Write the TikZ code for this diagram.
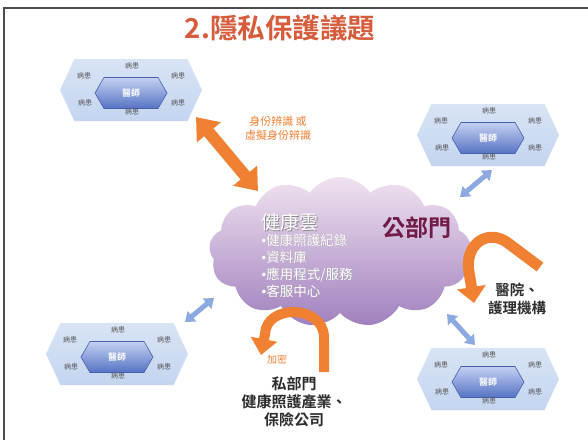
\documentclass[tikz,border=0pt]{standalone}
\usepackage{fontspec}
\setmainfont{Noto Sans CJK TC}[BoldFont={Noto Sans CJK TC Bold}]
\newfontfamily\latinf{Liberation Sans}
\newcommand{\bul}{{\latinf •}}
\usetikzlibrary{shapes.symbols,arrows.meta}
\definecolor{titlec}{RGB}{214,92,60}
\definecolor{orng}{RGB}{240,128,50}
\definecolor{hexA}{RGB}{216,228,245}
\definecolor{hexB}{RGB}{196,213,240}
\definecolor{inA}{RGB}{196,208,242}
\definecolor{inB}{RGB}{86,115,196}
\definecolor{inD}{RGB}{70,95,170}
\definecolor{patc}{RGB}{85,85,85}
\definecolor{cloudA}{RGB}{240,226,240}
\definecolor{cloudB}{RGB}{160,128,190}
\definecolor{gbm}{RGB}{112,28,70}
\definecolor{bluea}{RGB}{140,170,225}
\definecolor{darkt}{RGB}{45,45,45}
\begin{document}
\begin{tikzpicture}[x=1pt,y=-1pt,
  outerhex/.style={signal, signal to=east and west, signal pointer angle=130,
     minimum width=142pt, minimum height=62pt, inner sep=0pt,
     top color=hexA, bottom color=hexB, draw=none},
  innerhex/.style={signal, signal to=east and west, signal pointer angle=120,
     minimum width=72pt, minimum height=31pt, inner sep=0pt,
     top color=inA, bottom color=inB, draw=inD, line width=0.6pt,
     text=white, font=\bfseries\fontsize{9}{9}\selectfont},
  pat/.style={font=\fontsize{7}{7}\selectfont, text=patc},
  bigorange/.style={orng, line width=12pt},
  bluearrow/.style={bluea, line width=5pt,
     {Triangle[length=9pt,width=13pt]}-{Triangle[length=9pt,width=13pt]}}
]
\useasboundingbox (0,0) rectangle (588,440);
\fill[white] (0,0) rectangle (588,440);
\draw[line width=2pt, black!70] (4,440) -- (4,8) -- (588,8);

% title
\node[text=titlec, font=\bfseries\fontsize{27.5}{27.5}\selectfont] (title) at (280,28) {2.隱私保護議題};

% cloud
\node[cloud, cloud puffs=13, cloud puff arc=110, aspect=1.8,
      minimum width=262pt, minimum height=150pt,
      top color=cloudA, bottom color=cloudB] (cloud) at (340,252) {};

% groups
\foreach \n/\x/\y in {1/131/90, 2/488/135, 3/117/354, 4/488/379} {
  \node[outerhex] (o\n) at (\x,\y) {};
  \node[innerhex] (i\n) at (\x,\y+3) {醫師};
  \node[pat] (pa\n) at ([shift={(1,-24)}]o\n.center) {病患};
  \node[pat] (pb\n) at ([shift={(1,22)}]o\n.center) {病患};
  \node[pat] (pc\n) at ([shift={(-47,-14)}]o\n.center) {病患};
  \node[pat] (pd\n) at ([shift={(-46,13)}]o\n.center) {病患};
  \node[pat] (pe\n) at ([shift={(47,-14)}]o\n.center) {病患};
  \node[pat] (pf\n) at ([shift={(47,13)}]o\n.center) {病患};
}

% cloud texts
\node[text=black!45, font=\fontsize{19}{19}\selectfont] at (290.8,222.8) {健康雲};
\node[text=white, font=\fontsize{19}{19}\selectfont] (yun) at (290,222) {健康雲};
\node[text=black!35, anchor=north west, align=left, font=\fontsize{13.5}{17}\selectfont] at (258.7,230.7)
  {\bul 健康照護紀錄\\\bul 資料庫\\\bul 應用程式/服務\\\bul 客服中心};
\node[text=white, anchor=north west, align=left, font=\fontsize{13.5}{17}\selectfont] (list) at (258,230)
  {\bul 健康照護紀錄\\\bul 資料庫\\\bul 應用程式/服務\\\bul 客服中心};
\node[text=gbm, font=\bfseries\fontsize{23}{23}\selectfont] (gov) at (417,228) {公部門};

% orange double arrow
\coordinate (oa1) at (196,117);
\coordinate (oa2) at (258,191);
\draw[bigorange, {Triangle[length=20pt,width=30pt]}-{Triangle[length=20pt,width=30pt]}] (oa1) -- (oa2);
\node[text=orng, align=center, font=\fontsize{11}{14}\selectfont] (idlab) at (278,128) {身份辨識 或\\虛擬身份辨識};

% bottom U arrow
\coordinate (pu1) at (324,372);
\coordinate (pu2) at (261,355);
\draw[orng, line width=10pt, -{Triangle[length=16pt,width=26pt]}]
  (pu1) -- (324,338) .. controls (324,304) and (266,304) .. (265,334) -- (pu2);
\node[text=orng, font=\fontsize{10}{10}\selectfont] (enc) at (277,360) {加密};

% right hook arrow
\coordinate (hk1) at (540,267);
\coordinate (hk2) at (474,303);
\draw[orng, line width=11pt, -{Triangle[length=16pt,width=28pt]}]
  (hk1) -- (508,243) .. controls (488,228) and (464,244) .. (469,272) -- (hk2);
\node[text=darkt, align=center, font=\bfseries\fontsize{14.5}{18}\selectfont] (hosp) at (517,299) {醫院、\\護理機構};

% private sector
\node[text=darkt, align=center, font=\bfseries\fontsize{15}{18}\selectfont] (priv) at (294,402) {私部門\\健康照護產業、\\保險公司};

% blue arrows
\coordinate (b1a) at (460,197); \coordinate (b1b) at (492,170);
\coordinate (b2a) at (185,322); \coordinate (b2b) at (214,298);
\coordinate (b3a) at (447,314); \coordinate (b3b) at (475,345);
\draw[bluearrow] (b1a) -- (b1b);
\draw[bluearrow] (b2a) -- (b2b);
\draw[bluearrow] (b3a) -- (b3b);
\end{tikzpicture}
\end{document}
